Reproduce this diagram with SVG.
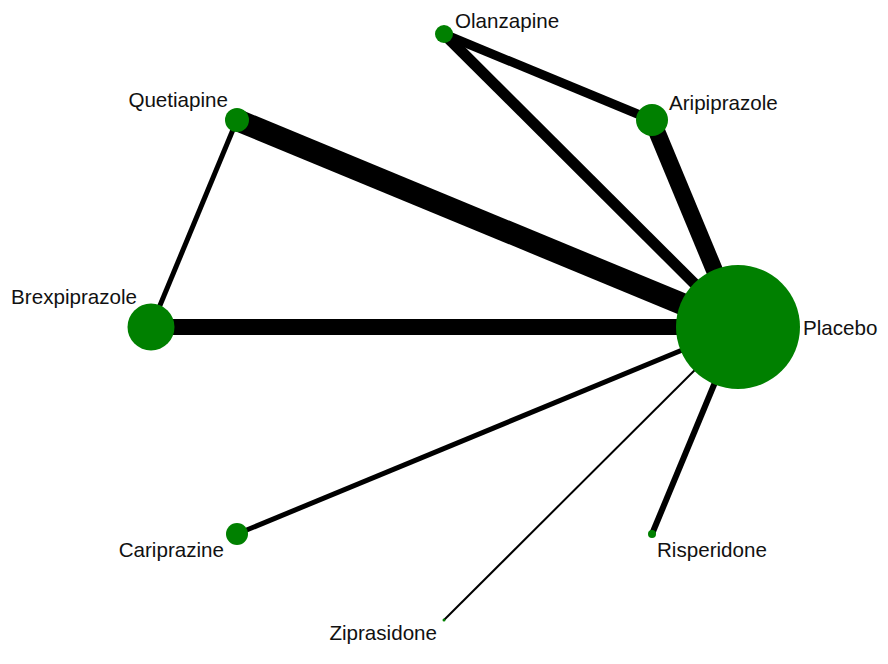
<svg xmlns="http://www.w3.org/2000/svg" width="888" height="664" viewBox="0 0 888 664">
<style>
.edge{stroke:#000;fill:none;stroke-linecap:butt}
.node circle{fill:#008000}
.node text{font-family:"Liberation Sans",Arial,sans-serif;font-size:20.6px;fill:#111}
</style>
<rect width="888" height="664" fill="#fff"/>
<g id="connectors">
<line class="edge" x1="237" y1="120" x2="738" y2="327" stroke-width="22"/>
<line class="edge" x1="151" y1="327" x2="738" y2="327" stroke-width="16"/>
<line class="edge" x1="652" y1="120" x2="738" y2="327" stroke-width="17"/>
<line class="edge" x1="444" y1="34" x2="738" y2="327" stroke-width="11"/>
<line class="edge" x1="444" y1="34" x2="652" y2="120" stroke-width="9"/>
<line class="edge" x1="237" y1="120" x2="151" y2="327" stroke-width="5"/>
<line class="edge" x1="237" y1="534" x2="738" y2="327" stroke-width="5"/>
<line class="edge" x1="444" y1="620" x2="738" y2="327" stroke-width="2"/>
<line class="edge" x1="652" y1="534" x2="738" y2="327" stroke-width="6"/>
</g>
<g id="node-placebo" class="node"><circle cx="738" cy="327" r="62"/><text x="803" y="335">Placebo</text></g>
<g id="node-aripiprazole" class="node"><circle cx="652" cy="120" r="16"/><text x="669" y="110">Aripiprazole</text></g>
<g id="node-olanzapine" class="node"><circle cx="444" cy="34" r="9"/><text x="455" y="28">Olanzapine</text></g>
<g id="node-quetiapine" class="node"><circle cx="237" cy="120" r="12"/><text x="228" y="107" text-anchor="end">Quetiapine</text></g>
<g id="node-brexpiprazole" class="node"><circle cx="151" cy="327" r="23.5"/><text x="137" y="304" text-anchor="end">Brexpiprazole</text></g>
<g id="node-cariprazine" class="node"><circle cx="237" cy="534" r="11"/><text x="224" y="557" text-anchor="end">Cariprazine</text></g>
<g id="node-ziprasidone" class="node"><circle cx="444" cy="620" r="1.5"/><text x="437" y="640" text-anchor="end">Ziprasidone</text></g>
<g id="node-risperidone" class="node"><circle cx="652" cy="534" r="4"/><text x="657" y="557">Risperidone</text></g>
</svg>
